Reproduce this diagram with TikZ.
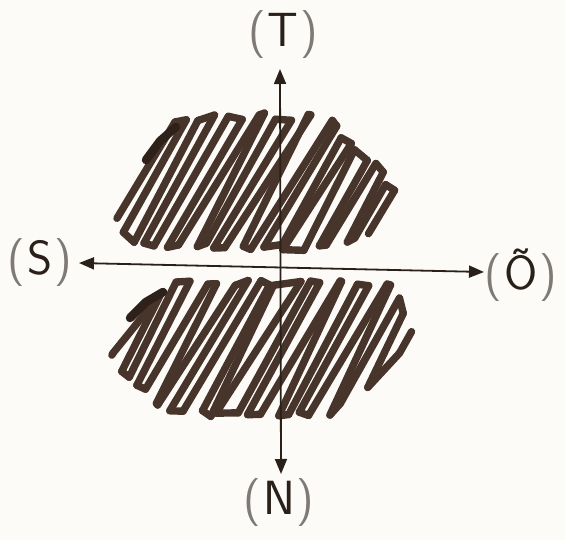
\documentclass[tikz,border=0pt]{standalone}
\usetikzlibrary{calc,arrows.meta}
\definecolor{ink}{HTML}{47342A}
\definecolor{inkdark}{HTML}{2E2119}
\definecolor{axisc}{HTML}{2A201A}
\definecolor{paper}{HTML}{FCFBF8}
\definecolor{parenc}{HTML}{7F7A76}
\tikzset{
  scribble/.style={draw=ink, line width=7.4pt, line cap=round, line join=round},
  blotch/.style={draw=inkdark, line width=8.5pt, line cap=round, line join=round},
  axisline/.style={draw=axisc, line width=1.8pt,
    {Triangle[length=15pt,width=12pt]}-{Triangle[length=15pt,width=12pt]}},
  lbl/.style={font=\sffamily\fontsize{48}{48}\selectfont, text=axisc, inner sep=0pt},
}
\newcommand{\pp}[1]{\textcolor{parenc}{(}\kern2pt#1\kern2pt\textcolor{parenc}{)}}
\begin{document}
\begin{tikzpicture}[x=1pt,y=-1pt]
\useasboundingbox[fill=paper] (0,0) rectangle (565,540);
\pgfmathsetseed{23}
% ---- upper blob: stroke end points
\foreach \i in {0,...,21} {
  \pgfmathsetmacro{\xc}{140+12.4*\i+3*rand}
  \pgfmathsetmacro{\ct}{cot(61+4*rand)}
  \pgfmathsetmacro{\yt}{117+75*max(0,(\xc-290)/110)+8*max(0,(165-\xc)/25)+4*rand}
  \pgfmathsetmacro{\yb}{247-25*max(0,(175-\xc)/35)-14*max(0,(\xc-365)/35)+4*rand}
  \coordinate (ua\i) at ({\xc+(185-\yb)*\ct},\yb);
  \coordinate (ub\i) at ({\xc+(185-\yt)*\ct},\yt);
}
\foreach \i in {0,...,21} { \draw[scribble] (ua\i) -- (ub\i); }
\foreach \i in {0,...,20} {
  \pgfmathtruncatemacro{\n}{\i+1}
  \pgfmathtruncatemacro{\odd}{mod(\i,2)}
  \ifnum\odd=0 \draw[scribble] (ub\i) -- (ub\n); \else \draw[scribble] (ua\i) -- (ua\n); \fi
}
\draw[blotch] (146,160) -- (160,141) -- (176,127);
% ---- lower blob: stroke end points
\foreach \i in {0,...,22} {
  \pgfmathsetmacro{\xc}{117+12.8*\i+3*rand}
  \pgfmathsetmacro{\ct}{cot(61+4*rand)}
  \pgfmathsetmacro{\yt}{284+62*max(0,(136-\xc)/20)+45*max(0,(\xc-360)/40)+4*rand}
  \pgfmathsetmacro{\yb}{413-55*max(0,(200-\xc)/85)-60*(max(0,(\xc-355)/45))^2+4*rand}
  \coordinate (la\i) at ({\xc+(350-\yb)*\ct},\yb);
  \coordinate (lb\i) at ({\xc+(350-\yt)*\ct},\yt);
}
\foreach \i in {0,...,22} { \draw[scribble] (la\i) -- (lb\i); }
\foreach \i in {0,...,21} {
  \pgfmathtruncatemacro{\n}{\i+1}
  \pgfmathtruncatemacro{\odd}{mod(\i,2)}
  \ifnum\odd=0 \draw[scribble] (lb\i) -- (lb\n); \else \draw[scribble] (la\i) -- (la\n); \fi
}
\draw[blotch] (130,318) -- (146,302) -- (163,292);
% ---- axes
\coordinate (axt) at (280,69);
\coordinate (axb) at (281,474);
\coordinate (axl) at (79,263);
\coordinate (axr) at (484,272);
\draw[axisline] (axb) -- (axt);
\draw[axisline] (axl) -- (axr);
% ---- labels
\node[lbl] (lT) at (283,35) {\pp{T}};
\node[lbl] (lS) at (40,263) {\pp{S}};
\node[lbl] (lO) at (521,275) {\pp{Õ}};
\node[lbl] (lN) at (279,503) {\pp{N}};
\end{tikzpicture}
\end{document}
